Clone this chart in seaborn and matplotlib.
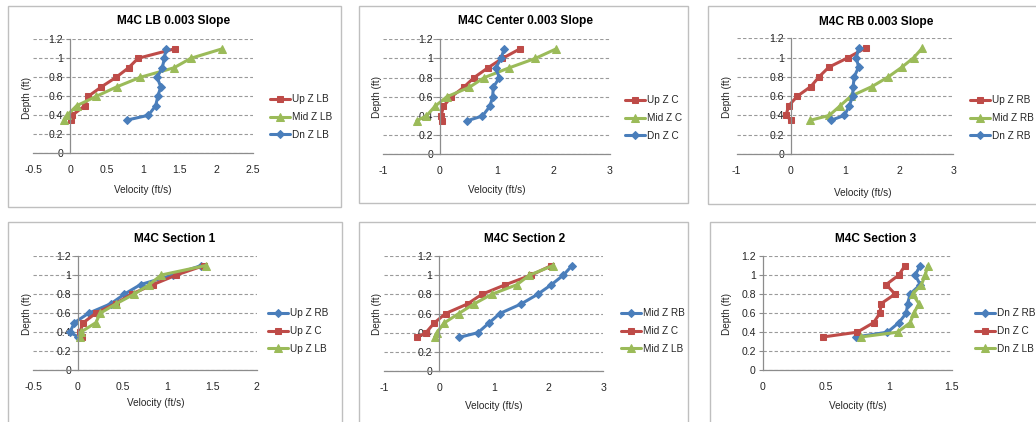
import matplotlib
matplotlib.use("Agg")
import matplotlib.pyplot as plt
import seaborn as sns
import pandas as pd
from matplotlib.patches import Rectangle
from matplotlib.ticker import FuncFormatter

# ---------------- data ----------------
depth = [0.35, 0.4, 0.5, 0.6, 0.7, 0.8, 0.9, 1.0, 1.1]

up_lb = [0.02, 0.03, 0.20, 0.25, 0.43, 0.63, 0.80, 0.93, 1.43]
mid_lb = [-0.08, -0.04, 0.09, 0.36, 0.64, 0.96, 1.42, 1.65, 2.08]
dn_lb = [0.78, 1.07, 1.17, 1.20, 1.24, 1.19, 1.26, 1.29, 1.31]

up_c = [0.04, 0.02, 0.06, 0.20, 0.42, 0.60, 0.84, 1.10, 1.41]
mid_c = [-0.41, -0.24, -0.09, 0.12, 0.52, 0.78, 1.21, 1.68, 2.05]
dn_c = [0.48, 0.75, 0.88, 0.93, 0.94, 1.05, 0.98, 1.08, 1.13]

up_rb = [0.00, -0.09, -0.04, 0.12, 0.37, 0.52, 0.70, 1.06, 1.38]
mid_rb = [0.36, 0.71, 0.91, 1.11, 1.50, 1.80, 2.05, 2.27, 2.43]
dn_rb = [0.74, 0.99, 1.08, 1.14, 1.15, 1.17, 1.25, 1.21, 1.25]

titles = ["M4C LB 0.003 Slope", "M4C Center 0.003 Slope", "M4C RB 0.003 Slope",
          "M4C Section 1", "M4C Section 2", "M4C Section 3"]

panel_series = [
    [("Up Z LB", up_lb), ("Mid Z LB", mid_lb), ("Dn Z LB", dn_lb)],
    [("Up Z C", up_c), ("Mid Z C", mid_c), ("Dn Z C", dn_c)],
    [("Up Z RB", up_rb), ("Mid Z RB", mid_rb), ("Dn Z RB", dn_rb)],
    [("Up Z RB", up_rb), ("Up Z C", up_c), ("Up Z LB", up_lb)],
    [("Mid Z RB", mid_rb), ("Mid Z C", mid_c), ("Mid Z LB", mid_lb)],
    [("Dn Z RB", dn_rb), ("Dn Z C", dn_c), ("Dn Z LB", dn_lb)],
]

x_ranges = [(-0.5, 2.5, 0.5), (-1, 3, 1), (-1, 3, 1),
            (-0.5, 2.0, 0.5), (-1, 3, 1), (0, 1.5, 0.5)]
y_ticks = [0, 0.2, 0.4, 0.6, 0.8, 1.0, 1.2]

# ---------------- styles ----------------
RED, GREEN, BLUE = "#BE4B48", "#9BBB59", "#4A7EBB"
style_top = [(RED, "s"), (GREEN, "^"), (BLUE, "D")]
style_bot = [(BLUE, "D"), (RED, "s"), (GREEN, "^")]
msize = {"s": 5.0, "^": 5.6, "D": 4.2}

sns.set_style("white")
plt.rcParams["font.family"] = ["Liberation Sans", "DejaVu Sans"]

W, H = 1036, 422
fig = plt.figure(figsize=(W / 100, H / 100), dpi=100)

# pixel geometry: (left, right, top, bottom) of plot areas
plot_px = [(33.4, 253, 39.3, 153.3), (383.3, 610, 39.3, 154.3), (736.7, 953.3, 38.3, 154),
           (33.3, 256.7, 256, 370.3), (384.3, 603.3, 256, 371), (762.7, 951.7, 256, 370.3)]
box_px = [(8, 340.5, 5.5, 206.5), (359, 688, 6, 203), (708, 1045, 6, 204),
          (8, 341.5, 222, 430), (359, 688, 222, 430), (710, 1045, 222, 430)]
title_px = [(174, 21), (525, 21), (876, 21.5), (175, 239), (525, 239), (876, 239)]
xlabel_px = [(142.5, 190), (497, 190), (863, 192.5), (156, 403), (493.5, 406), (858, 406)]
ylabel_px = [(27, 98), (377, 97), (727, 97), (27, 314), (377, 314), (727, 314)]
legend_px = [(270, 117), (625, 118), (970, 118), (268, 331), (621, 331), (975, 331)]

fmt = FuncFormatter(lambda v, p: "%g" % round(v, 2))
TXT = "#262626"
AX = "#8C8C8C"

for i in range(6):
    l, r, t, b = plot_px[i]
    ax = fig.add_axes([l / W, 1 - b / H, (r - l) / W, (b - t) / H])
    styles = style_top if i < 3 else style_bot
    for (name, vals), (col, mk) in zip(panel_series[i], styles):
        df = pd.DataFrame({"Velocity": vals, "Depth": depth})
        sns.lineplot(data=df, x="Velocity", y="Depth", sort=False, estimator=None,
                     color=col, marker=mk, markersize=msize[mk],
                     markeredgecolor=col, linewidth=2.2, ax=ax, label=name,
                     legend=False)
    lines = ax.get_lines()
    x0, x1, st = x_ranges[i]
    ax.set_xlim(x0, x1)
    ax.set_ylim(0, 1.2)
    n = int(round((x1 - x0) / st))
    ax.set_xticks([x0 + k * st for k in range(n + 1)])
    ax.set_yticks(y_ticks)
    ax.xaxis.set_major_formatter(fmt)
    ax.yaxis.set_major_formatter(fmt)
    ax.set_xlabel("")
    ax.set_ylabel("")
    ax.set_facecolor("none")
    for s in ("top", "right"):
        ax.spines[s].set_visible(False)
    ax.spines["left"].set_position(("data", 0))
    ax.spines["left"].set_color(AX)
    ax.spines["bottom"].set_color(AX)
    ax.spines["left"].set_linewidth(0.9)
    ax.spines["bottom"].set_linewidth(0.9)
    ax.yaxis.grid(True, linestyle=(0, (3, 2)), color="#9A9A9A", linewidth=0.8)
    ax.xaxis.grid(False)
    ax.set_axisbelow(True)
    ax.tick_params(axis="y", direction="out", length=3, width=0.8, color=AX,
                   pad=2, labelsize=7.6, labelcolor=TXT, left=True)
    ax.tick_params(axis="x", direction="out", length=0, pad=8.5,
                   labelsize=7.6, labelcolor=TXT, bottom=True)
    for ln in ax.get_lines():
        ln.set_clip_on(False)

    # chart border
    bl, br, bt, bb = box_px[i]
    fig.patches.append(Rectangle((bl / W, 1 - bb / H), (br - bl) / W, (bb - bt) / H,
                                 transform=fig.transFigure, fill=False,
                                 edgecolor="#BFBFBF", linewidth=1.0))
    tx, ty = title_px[i]
    fig.text(tx / W, 1 - ty / H, titles[i], ha="center", va="center",
             fontsize=8.6, fontweight="bold", color="#000000")
    xx, xy = xlabel_px[i]
    fig.text(xx / W, 1 - xy / H, "Velocity (ft/s)", ha="center", va="center",
             fontsize=7.2, color=TXT)
    yx, yy = ylabel_px[i]
    fig.text(yx / W, 1 - yy / H, "Depth (ft)", ha="center", va="center",
             fontsize=7.2, color=TXT, rotation=90)
    lx, ly = legend_px[i]
    fig.legend(handles=lines, labels=[nm for nm, _ in panel_series[i]],
               loc="center left", bbox_to_anchor=(lx / W, 1 - ly / H),
               frameon=False, fontsize=7.2, handlelength=2.0, handletextpad=0.2,
               labelspacing=0.78, borderpad=0, borderaxespad=0,
               labelcolor=TXT)

fig.savefig("out.png", dpi=100, facecolor="white")
